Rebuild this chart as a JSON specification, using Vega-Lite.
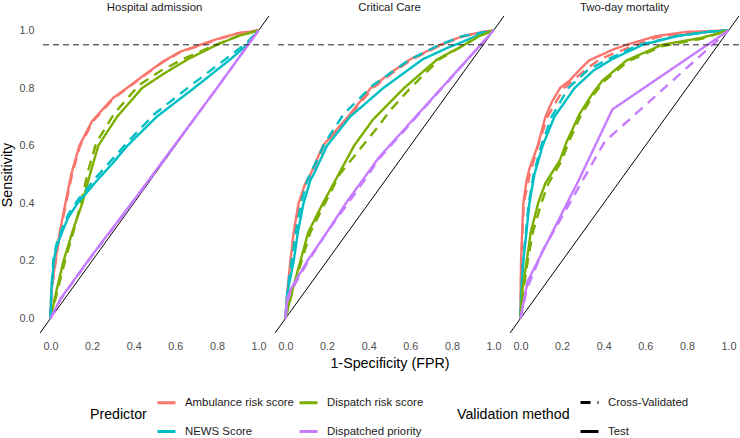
{
"$schema":"https://vega.github.io/schema/vega-lite/v6.json",
"padding":{"left":0,"top":1,"right":1,"bottom":0},
"background":"white",
"bounds":"flush",
"config":{
"font":"Liberation Sans",
"view":{"stroke":null},
"axis":{"domain":false,"ticks":false,"labelColor":"#4d4d4d","labelFontSize":10.8,"labelFont":"Liberation Sans","titleFont":"Liberation Sans","titleFontSize":14.3,"titleFontWeight":"normal","titleColor":"#000000","gridColor":"#e6e6e6","labelPadding":6},
"header":{"labelFont":"Liberation Sans","labelFontSize":11.4,"labelColor":"#1a1a1a","titleFont":"Liberation Sans","titleFontSize":14.3,"titleFontWeight":"normal","titleColor":"#000000"},
"legend":{"labelFont":"Liberation Sans","titleFont":"Liberation Sans","labelFontSize":11.4,"labelColor":"#1a1a1a","titleFontSize":14.2,"titleFontWeight":"normal","titleColor":"#000000","symbolType":"stroke","symbolStrokeWidth":3,"symbolSize":324,"rowPadding":12,"columnPadding":-1,"titlePadding":9,"labelOffset":8,"padding":0}
},
"data":{"values":[
{"panel":"Hospital admission","pred":"Ambulance risk score","method":"Test","fpr":0,"tpr":0},
{"panel":"Hospital admission","pred":"Ambulance risk score","method":"Test","fpr":0.005,"tpr":0.1},
{"panel":"Hospital admission","pred":"Ambulance risk score","method":"Test","fpr":0.024,"tpr":0.2},
{"panel":"Hospital admission","pred":"Ambulance risk score","method":"Test","fpr":0.045,"tpr":0.3},
{"panel":"Hospital admission","pred":"Ambulance risk score","method":"Test","fpr":0.072,"tpr":0.4},
{"panel":"Hospital admission","pred":"Ambulance risk score","method":"Test","fpr":0.1,"tpr":0.5},
{"panel":"Hospital admission","pred":"Ambulance risk score","method":"Test","fpr":0.139,"tpr":0.6},
{"panel":"Hospital admission","pred":"Ambulance risk score","method":"Test","fpr":0.2,"tpr":0.685},
{"panel":"Hospital admission","pred":"Ambulance risk score","method":"Test","fpr":0.3,"tpr":0.765},
{"panel":"Hospital admission","pred":"Ambulance risk score","method":"Test","fpr":0.377,"tpr":0.805},
{"panel":"Hospital admission","pred":"Ambulance risk score","method":"Test","fpr":0.45,"tpr":0.845},
{"panel":"Hospital admission","pred":"Ambulance risk score","method":"Test","fpr":0.537,"tpr":0.89},
{"panel":"Hospital admission","pred":"Ambulance risk score","method":"Test","fpr":0.62,"tpr":0.925},
{"panel":"Hospital admission","pred":"Ambulance risk score","method":"Test","fpr":0.72,"tpr":0.95},
{"panel":"Hospital admission","pred":"Ambulance risk score","method":"Test","fpr":0.8,"tpr":0.97},
{"panel":"Hospital admission","pred":"Ambulance risk score","method":"Test","fpr":0.9,"tpr":0.99},
{"panel":"Hospital admission","pred":"Ambulance risk score","method":"Test","fpr":1,"tpr":1},
{"panel":"Hospital admission","pred":"Ambulance risk score","method":"Cross-Validated","fpr":0,"tpr":0},
{"panel":"Hospital admission","pred":"Ambulance risk score","method":"Cross-Validated","fpr":0.006,"tpr":0.1},
{"panel":"Hospital admission","pred":"Ambulance risk score","method":"Cross-Validated","fpr":0.026,"tpr":0.2},
{"panel":"Hospital admission","pred":"Ambulance risk score","method":"Cross-Validated","fpr":0.047,"tpr":0.3},
{"panel":"Hospital admission","pred":"Ambulance risk score","method":"Cross-Validated","fpr":0.075,"tpr":0.4},
{"panel":"Hospital admission","pred":"Ambulance risk score","method":"Cross-Validated","fpr":0.104,"tpr":0.5},
{"panel":"Hospital admission","pred":"Ambulance risk score","method":"Cross-Validated","fpr":0.143,"tpr":0.6},
{"panel":"Hospital admission","pred":"Ambulance risk score","method":"Cross-Validated","fpr":0.205,"tpr":0.685},
{"panel":"Hospital admission","pred":"Ambulance risk score","method":"Cross-Validated","fpr":0.305,"tpr":0.765},
{"panel":"Hospital admission","pred":"Ambulance risk score","method":"Cross-Validated","fpr":0.38,"tpr":0.805},
{"panel":"Hospital admission","pred":"Ambulance risk score","method":"Cross-Validated","fpr":0.455,"tpr":0.845},
{"panel":"Hospital admission","pred":"Ambulance risk score","method":"Cross-Validated","fpr":0.54,"tpr":0.89},
{"panel":"Hospital admission","pred":"Ambulance risk score","method":"Cross-Validated","fpr":0.625,"tpr":0.925},
{"panel":"Hospital admission","pred":"Ambulance risk score","method":"Cross-Validated","fpr":0.72,"tpr":0.948},
{"panel":"Hospital admission","pred":"Ambulance risk score","method":"Cross-Validated","fpr":0.8,"tpr":0.968},
{"panel":"Hospital admission","pred":"Ambulance risk score","method":"Cross-Validated","fpr":0.9,"tpr":0.99},
{"panel":"Hospital admission","pred":"Ambulance risk score","method":"Cross-Validated","fpr":1,"tpr":1},
{"panel":"Hospital admission","pred":"Dispatch risk score","method":"Test","fpr":0,"tpr":0},
{"panel":"Hospital admission","pred":"Dispatch risk score","method":"Test","fpr":0.03,"tpr":0.1},
{"panel":"Hospital admission","pred":"Dispatch risk score","method":"Test","fpr":0.063,"tpr":0.2},
{"panel":"Hospital admission","pred":"Dispatch risk score","method":"Test","fpr":0.105,"tpr":0.3},
{"panel":"Hospital admission","pred":"Dispatch risk score","method":"Test","fpr":0.153,"tpr":0.4},
{"panel":"Hospital admission","pred":"Dispatch risk score","method":"Test","fpr":0.19,"tpr":0.5},
{"panel":"Hospital admission","pred":"Dispatch risk score","method":"Test","fpr":0.23,"tpr":0.6},
{"panel":"Hospital admission","pred":"Dispatch risk score","method":"Test","fpr":0.32,"tpr":0.7},
{"panel":"Hospital admission","pred":"Dispatch risk score","method":"Test","fpr":0.44,"tpr":0.8},
{"panel":"Hospital admission","pred":"Dispatch risk score","method":"Test","fpr":0.545,"tpr":0.85},
{"panel":"Hospital admission","pred":"Dispatch risk score","method":"Test","fpr":0.66,"tpr":0.9},
{"panel":"Hospital admission","pred":"Dispatch risk score","method":"Test","fpr":0.8,"tpr":0.95},
{"panel":"Hospital admission","pred":"Dispatch risk score","method":"Test","fpr":0.9,"tpr":0.98},
{"panel":"Hospital admission","pred":"Dispatch risk score","method":"Test","fpr":1,"tpr":1},
{"panel":"Hospital admission","pred":"Dispatch risk score","method":"Cross-Validated","fpr":0,"tpr":0},
{"panel":"Hospital admission","pred":"Dispatch risk score","method":"Cross-Validated","fpr":0.035,"tpr":0.1},
{"panel":"Hospital admission","pred":"Dispatch risk score","method":"Cross-Validated","fpr":0.07,"tpr":0.2},
{"panel":"Hospital admission","pred":"Dispatch risk score","method":"Cross-Validated","fpr":0.11,"tpr":0.3},
{"panel":"Hospital admission","pred":"Dispatch risk score","method":"Cross-Validated","fpr":0.15,"tpr":0.41},
{"panel":"Hospital admission","pred":"Dispatch risk score","method":"Cross-Validated","fpr":0.18,"tpr":0.51},
{"panel":"Hospital admission","pred":"Dispatch risk score","method":"Cross-Validated","fpr":0.22,"tpr":0.61},
{"panel":"Hospital admission","pred":"Dispatch risk score","method":"Cross-Validated","fpr":0.305,"tpr":0.71},
{"panel":"Hospital admission","pred":"Dispatch risk score","method":"Cross-Validated","fpr":0.425,"tpr":0.81},
{"panel":"Hospital admission","pred":"Dispatch risk score","method":"Cross-Validated","fpr":0.53,"tpr":0.86},
{"panel":"Hospital admission","pred":"Dispatch risk score","method":"Cross-Validated","fpr":0.65,"tpr":0.905},
{"panel":"Hospital admission","pred":"Dispatch risk score","method":"Cross-Validated","fpr":0.8,"tpr":0.952},
{"panel":"Hospital admission","pred":"Dispatch risk score","method":"Cross-Validated","fpr":0.9,"tpr":0.98},
{"panel":"Hospital admission","pred":"Dispatch risk score","method":"Cross-Validated","fpr":1,"tpr":1},
{"panel":"Hospital admission","pred":"NEWS Score","method":"Test","fpr":0,"tpr":0},
{"panel":"Hospital admission","pred":"NEWS Score","method":"Test","fpr":0.005,"tpr":0.1},
{"panel":"Hospital admission","pred":"NEWS Score","method":"Test","fpr":0.016,"tpr":0.2},
{"panel":"Hospital admission","pred":"NEWS Score","method":"Test","fpr":0.03,"tpr":0.25},
{"panel":"Hospital admission","pred":"NEWS Score","method":"Test","fpr":0.056,"tpr":0.3},
{"panel":"Hospital admission","pred":"NEWS Score","method":"Test","fpr":0.085,"tpr":0.35},
{"panel":"Hospital admission","pred":"NEWS Score","method":"Test","fpr":0.13,"tpr":0.4},
{"panel":"Hospital admission","pred":"NEWS Score","method":"Test","fpr":0.225,"tpr":0.48},
{"panel":"Hospital admission","pred":"NEWS Score","method":"Test","fpr":0.3,"tpr":0.54},
{"panel":"Hospital admission","pred":"NEWS Score","method":"Test","fpr":0.37,"tpr":0.6},
{"panel":"Hospital admission","pred":"NEWS Score","method":"Test","fpr":0.51,"tpr":0.7},
{"panel":"Hospital admission","pred":"NEWS Score","method":"Test","fpr":0.69,"tpr":0.8},
{"panel":"Hospital admission","pred":"NEWS Score","method":"Test","fpr":0.865,"tpr":0.9},
{"panel":"Hospital admission","pred":"NEWS Score","method":"Test","fpr":0.945,"tpr":0.95},
{"panel":"Hospital admission","pred":"NEWS Score","method":"Test","fpr":1,"tpr":1},
{"panel":"Hospital admission","pred":"NEWS Score","method":"Cross-Validated","fpr":0,"tpr":0},
{"panel":"Hospital admission","pred":"NEWS Score","method":"Cross-Validated","fpr":0.005,"tpr":0.11},
{"panel":"Hospital admission","pred":"NEWS Score","method":"Cross-Validated","fpr":0.015,"tpr":0.21},
{"panel":"Hospital admission","pred":"NEWS Score","method":"Cross-Validated","fpr":0.03,"tpr":0.26},
{"panel":"Hospital admission","pred":"NEWS Score","method":"Cross-Validated","fpr":0.055,"tpr":0.31},
{"panel":"Hospital admission","pred":"NEWS Score","method":"Cross-Validated","fpr":0.085,"tpr":0.36},
{"panel":"Hospital admission","pred":"NEWS Score","method":"Cross-Validated","fpr":0.13,"tpr":0.41},
{"panel":"Hospital admission","pred":"NEWS Score","method":"Cross-Validated","fpr":0.22,"tpr":0.49},
{"panel":"Hospital admission","pred":"NEWS Score","method":"Cross-Validated","fpr":0.3,"tpr":0.555},
{"panel":"Hospital admission","pred":"NEWS Score","method":"Cross-Validated","fpr":0.37,"tpr":0.612},
{"panel":"Hospital admission","pred":"NEWS Score","method":"Cross-Validated","fpr":0.5,"tpr":0.71},
{"panel":"Hospital admission","pred":"NEWS Score","method":"Cross-Validated","fpr":0.68,"tpr":0.812},
{"panel":"Hospital admission","pred":"NEWS Score","method":"Cross-Validated","fpr":0.855,"tpr":0.908},
{"panel":"Hospital admission","pred":"NEWS Score","method":"Cross-Validated","fpr":0.94,"tpr":0.955},
{"panel":"Hospital admission","pred":"NEWS Score","method":"Cross-Validated","fpr":1,"tpr":1},
{"panel":"Hospital admission","pred":"Dispatched priority","method":"Test","fpr":0,"tpr":0},
{"panel":"Hospital admission","pred":"Dispatched priority","method":"Test","fpr":0.05,"tpr":0.07},
{"panel":"Hospital admission","pred":"Dispatched priority","method":"Test","fpr":0.2,"tpr":0.22},
{"panel":"Hospital admission","pred":"Dispatched priority","method":"Test","fpr":0.4,"tpr":0.41},
{"panel":"Hospital admission","pred":"Dispatched priority","method":"Test","fpr":0.6,"tpr":0.605},
{"panel":"Hospital admission","pred":"Dispatched priority","method":"Test","fpr":0.8,"tpr":0.8},
{"panel":"Hospital admission","pred":"Dispatched priority","method":"Test","fpr":1,"tpr":1},
{"panel":"Hospital admission","pred":"Dispatched priority","method":"Cross-Validated","fpr":0,"tpr":0},
{"panel":"Hospital admission","pred":"Dispatched priority","method":"Cross-Validated","fpr":0.05,"tpr":0.068},
{"panel":"Hospital admission","pred":"Dispatched priority","method":"Cross-Validated","fpr":0.2,"tpr":0.218},
{"panel":"Hospital admission","pred":"Dispatched priority","method":"Cross-Validated","fpr":0.4,"tpr":0.408},
{"panel":"Hospital admission","pred":"Dispatched priority","method":"Cross-Validated","fpr":0.6,"tpr":0.603},
{"panel":"Hospital admission","pred":"Dispatched priority","method":"Cross-Validated","fpr":0.8,"tpr":0.8},
{"panel":"Hospital admission","pred":"Dispatched priority","method":"Cross-Validated","fpr":1,"tpr":1},
{"panel":"Critical Care","pred":"Ambulance risk score","method":"Test","fpr":0,"tpr":0},
{"panel":"Critical Care","pred":"Ambulance risk score","method":"Test","fpr":0.01,"tpr":0.1},
{"panel":"Critical Care","pred":"Ambulance risk score","method":"Test","fpr":0.024,"tpr":0.2},
{"panel":"Critical Care","pred":"Ambulance risk score","method":"Test","fpr":0.04,"tpr":0.3},
{"panel":"Critical Care","pred":"Ambulance risk score","method":"Test","fpr":0.063,"tpr":0.4},
{"panel":"Critical Care","pred":"Ambulance risk score","method":"Test","fpr":0.096,"tpr":0.47},
{"panel":"Critical Care","pred":"Ambulance risk score","method":"Test","fpr":0.12,"tpr":0.5},
{"panel":"Critical Care","pred":"Ambulance risk score","method":"Test","fpr":0.18,"tpr":0.6},
{"panel":"Critical Care","pred":"Ambulance risk score","method":"Test","fpr":0.3,"tpr":0.7},
{"panel":"Critical Care","pred":"Ambulance risk score","method":"Test","fpr":0.41,"tpr":0.8},
{"panel":"Critical Care","pred":"Ambulance risk score","method":"Test","fpr":0.5,"tpr":0.85},
{"panel":"Critical Care","pred":"Ambulance risk score","method":"Test","fpr":0.6,"tpr":0.9},
{"panel":"Critical Care","pred":"Ambulance risk score","method":"Test","fpr":0.745,"tpr":0.95},
{"panel":"Critical Care","pred":"Ambulance risk score","method":"Test","fpr":0.85,"tpr":0.98},
{"panel":"Critical Care","pred":"Ambulance risk score","method":"Test","fpr":0.95,"tpr":0.995},
{"panel":"Critical Care","pred":"Ambulance risk score","method":"Test","fpr":1,"tpr":1},
{"panel":"Critical Care","pred":"Ambulance risk score","method":"Cross-Validated","fpr":0,"tpr":0},
{"panel":"Critical Care","pred":"Ambulance risk score","method":"Cross-Validated","fpr":0.011,"tpr":0.1},
{"panel":"Critical Care","pred":"Ambulance risk score","method":"Cross-Validated","fpr":0.026,"tpr":0.2},
{"panel":"Critical Care","pred":"Ambulance risk score","method":"Cross-Validated","fpr":0.042,"tpr":0.3},
{"panel":"Critical Care","pred":"Ambulance risk score","method":"Cross-Validated","fpr":0.066,"tpr":0.4},
{"panel":"Critical Care","pred":"Ambulance risk score","method":"Cross-Validated","fpr":0.1,"tpr":0.47},
{"panel":"Critical Care","pred":"Ambulance risk score","method":"Cross-Validated","fpr":0.125,"tpr":0.5},
{"panel":"Critical Care","pred":"Ambulance risk score","method":"Cross-Validated","fpr":0.185,"tpr":0.6},
{"panel":"Critical Care","pred":"Ambulance risk score","method":"Cross-Validated","fpr":0.305,"tpr":0.7},
{"panel":"Critical Care","pred":"Ambulance risk score","method":"Cross-Validated","fpr":0.42,"tpr":0.8},
{"panel":"Critical Care","pred":"Ambulance risk score","method":"Cross-Validated","fpr":0.51,"tpr":0.85},
{"panel":"Critical Care","pred":"Ambulance risk score","method":"Cross-Validated","fpr":0.61,"tpr":0.9},
{"panel":"Critical Care","pred":"Ambulance risk score","method":"Cross-Validated","fpr":0.75,"tpr":0.95},
{"panel":"Critical Care","pred":"Ambulance risk score","method":"Cross-Validated","fpr":0.85,"tpr":0.978},
{"panel":"Critical Care","pred":"Ambulance risk score","method":"Cross-Validated","fpr":0.95,"tpr":0.995},
{"panel":"Critical Care","pred":"Ambulance risk score","method":"Cross-Validated","fpr":1,"tpr":1},
{"panel":"Critical Care","pred":"NEWS Score","method":"Test","fpr":0,"tpr":0},
{"panel":"Critical Care","pred":"NEWS Score","method":"Test","fpr":0.012,"tpr":0.1},
{"panel":"Critical Care","pred":"NEWS Score","method":"Test","fpr":0.04,"tpr":0.2},
{"panel":"Critical Care","pred":"NEWS Score","method":"Test","fpr":0.06,"tpr":0.3},
{"panel":"Critical Care","pred":"NEWS Score","method":"Test","fpr":0.087,"tpr":0.4},
{"panel":"Critical Care","pred":"NEWS Score","method":"Test","fpr":0.12,"tpr":0.48},
{"panel":"Critical Care","pred":"NEWS Score","method":"Test","fpr":0.135,"tpr":0.5},
{"panel":"Critical Care","pred":"NEWS Score","method":"Test","fpr":0.2,"tpr":0.6},
{"panel":"Critical Care","pred":"NEWS Score","method":"Test","fpr":0.31,"tpr":0.7},
{"panel":"Critical Care","pred":"NEWS Score","method":"Test","fpr":0.47,"tpr":0.8},
{"panel":"Critical Care","pred":"NEWS Score","method":"Test","fpr":0.66,"tpr":0.9},
{"panel":"Critical Care","pred":"NEWS Score","method":"Test","fpr":0.78,"tpr":0.94},
{"panel":"Critical Care","pred":"NEWS Score","method":"Test","fpr":0.85,"tpr":0.96},
{"panel":"Critical Care","pred":"NEWS Score","method":"Test","fpr":0.93,"tpr":0.985},
{"panel":"Critical Care","pred":"NEWS Score","method":"Test","fpr":1,"tpr":1},
{"panel":"Critical Care","pred":"NEWS Score","method":"Cross-Validated","fpr":0,"tpr":0},
{"panel":"Critical Care","pred":"NEWS Score","method":"Cross-Validated","fpr":0.01,"tpr":0.1},
{"panel":"Critical Care","pred":"NEWS Score","method":"Cross-Validated","fpr":0.03,"tpr":0.2},
{"panel":"Critical Care","pred":"NEWS Score","method":"Cross-Validated","fpr":0.05,"tpr":0.3},
{"panel":"Critical Care","pred":"NEWS Score","method":"Cross-Validated","fpr":0.075,"tpr":0.4},
{"panel":"Critical Care","pred":"NEWS Score","method":"Cross-Validated","fpr":0.105,"tpr":0.48},
{"panel":"Critical Care","pred":"NEWS Score","method":"Cross-Validated","fpr":0.125,"tpr":0.51},
{"panel":"Critical Care","pred":"NEWS Score","method":"Cross-Validated","fpr":0.19,"tpr":0.61},
{"panel":"Critical Care","pred":"NEWS Score","method":"Cross-Validated","fpr":0.28,"tpr":0.71},
{"panel":"Critical Care","pred":"NEWS Score","method":"Cross-Validated","fpr":0.42,"tpr":0.81},
{"panel":"Critical Care","pred":"NEWS Score","method":"Cross-Validated","fpr":0.6,"tpr":0.9},
{"panel":"Critical Care","pred":"NEWS Score","method":"Cross-Validated","fpr":0.74,"tpr":0.95},
{"panel":"Critical Care","pred":"NEWS Score","method":"Cross-Validated","fpr":0.85,"tpr":0.98},
{"panel":"Critical Care","pred":"NEWS Score","method":"Cross-Validated","fpr":1,"tpr":1},
{"panel":"Critical Care","pred":"Dispatch risk score","method":"Test","fpr":0,"tpr":0},
{"panel":"Critical Care","pred":"Dispatch risk score","method":"Test","fpr":0.034,"tpr":0.1},
{"panel":"Critical Care","pred":"Dispatch risk score","method":"Test","fpr":0.072,"tpr":0.2},
{"panel":"Critical Care","pred":"Dispatch risk score","method":"Test","fpr":0.11,"tpr":0.3},
{"panel":"Critical Care","pred":"Dispatch risk score","method":"Test","fpr":0.18,"tpr":0.4},
{"panel":"Critical Care","pred":"Dispatch risk score","method":"Test","fpr":0.24,"tpr":0.48},
{"panel":"Critical Care","pred":"Dispatch risk score","method":"Test","fpr":0.27,"tpr":0.52},
{"panel":"Critical Care","pred":"Dispatch risk score","method":"Test","fpr":0.33,"tpr":0.6},
{"panel":"Critical Care","pred":"Dispatch risk score","method":"Test","fpr":0.42,"tpr":0.69},
{"panel":"Critical Care","pred":"Dispatch risk score","method":"Test","fpr":0.57,"tpr":0.8},
{"panel":"Critical Care","pred":"Dispatch risk score","method":"Test","fpr":0.73,"tpr":0.9},
{"panel":"Critical Care","pred":"Dispatch risk score","method":"Test","fpr":0.86,"tpr":0.95},
{"panel":"Critical Care","pred":"Dispatch risk score","method":"Test","fpr":0.93,"tpr":0.98},
{"panel":"Critical Care","pred":"Dispatch risk score","method":"Test","fpr":1,"tpr":1},
{"panel":"Critical Care","pred":"Dispatch risk score","method":"Cross-Validated","fpr":0,"tpr":0},
{"panel":"Critical Care","pred":"Dispatch risk score","method":"Cross-Validated","fpr":0.036,"tpr":0.1},
{"panel":"Critical Care","pred":"Dispatch risk score","method":"Cross-Validated","fpr":0.078,"tpr":0.2},
{"panel":"Critical Care","pred":"Dispatch risk score","method":"Cross-Validated","fpr":0.12,"tpr":0.3},
{"panel":"Critical Care","pred":"Dispatch risk score","method":"Cross-Validated","fpr":0.19,"tpr":0.4},
{"panel":"Critical Care","pred":"Dispatch risk score","method":"Cross-Validated","fpr":0.26,"tpr":0.5},
{"panel":"Critical Care","pred":"Dispatch risk score","method":"Cross-Validated","fpr":0.36,"tpr":0.59},
{"panel":"Critical Care","pred":"Dispatch risk score","method":"Cross-Validated","fpr":0.45,"tpr":0.67},
{"panel":"Critical Care","pred":"Dispatch risk score","method":"Cross-Validated","fpr":0.5,"tpr":0.72},
{"panel":"Critical Care","pred":"Dispatch risk score","method":"Cross-Validated","fpr":0.6,"tpr":0.8},
{"panel":"Critical Care","pred":"Dispatch risk score","method":"Cross-Validated","fpr":0.74,"tpr":0.9},
{"panel":"Critical Care","pred":"Dispatch risk score","method":"Cross-Validated","fpr":0.86,"tpr":0.95},
{"panel":"Critical Care","pred":"Dispatch risk score","method":"Cross-Validated","fpr":0.93,"tpr":0.98},
{"panel":"Critical Care","pred":"Dispatch risk score","method":"Cross-Validated","fpr":1,"tpr":1},
{"panel":"Critical Care","pred":"Dispatched priority","method":"Test","fpr":0,"tpr":0},
{"panel":"Critical Care","pred":"Dispatched priority","method":"Test","fpr":0.01,"tpr":0.07},
{"panel":"Critical Care","pred":"Dispatched priority","method":"Test","fpr":0.024,"tpr":0.1},
{"panel":"Critical Care","pred":"Dispatched priority","method":"Test","fpr":0.105,"tpr":0.2},
{"panel":"Critical Care","pred":"Dispatched priority","method":"Test","fpr":0.2,"tpr":0.3},
{"panel":"Critical Care","pred":"Dispatched priority","method":"Test","fpr":0.29,"tpr":0.4},
{"panel":"Critical Care","pred":"Dispatched priority","method":"Test","fpr":0.36,"tpr":0.47},
{"panel":"Critical Care","pred":"Dispatched priority","method":"Test","fpr":0.45,"tpr":0.56},
{"panel":"Critical Care","pred":"Dispatched priority","method":"Test","fpr":1,"tpr":1},
{"panel":"Critical Care","pred":"Dispatched priority","method":"Cross-Validated","fpr":0,"tpr":0},
{"panel":"Critical Care","pred":"Dispatched priority","method":"Cross-Validated","fpr":0.01,"tpr":0.06},
{"panel":"Critical Care","pred":"Dispatched priority","method":"Cross-Validated","fpr":0.03,"tpr":0.1},
{"panel":"Critical Care","pred":"Dispatched priority","method":"Cross-Validated","fpr":0.11,"tpr":0.2},
{"panel":"Critical Care","pred":"Dispatched priority","method":"Cross-Validated","fpr":0.2,"tpr":0.3},
{"panel":"Critical Care","pred":"Dispatched priority","method":"Cross-Validated","fpr":0.29,"tpr":0.39},
{"panel":"Critical Care","pred":"Dispatched priority","method":"Cross-Validated","fpr":0.37,"tpr":0.47},
{"panel":"Critical Care","pred":"Dispatched priority","method":"Cross-Validated","fpr":0.45,"tpr":0.555},
{"panel":"Critical Care","pred":"Dispatched priority","method":"Cross-Validated","fpr":1,"tpr":1},
{"panel":"Two-day mortality","pred":"Ambulance risk score","method":"Test","fpr":0,"tpr":0},
{"panel":"Two-day mortality","pred":"Ambulance risk score","method":"Test","fpr":0.003,"tpr":0.2},
{"panel":"Two-day mortality","pred":"Ambulance risk score","method":"Test","fpr":0.014,"tpr":0.4},
{"panel":"Two-day mortality","pred":"Ambulance risk score","method":"Test","fpr":0.03,"tpr":0.48},
{"panel":"Two-day mortality","pred":"Ambulance risk score","method":"Test","fpr":0.043,"tpr":0.52},
{"panel":"Two-day mortality","pred":"Ambulance risk score","method":"Test","fpr":0.083,"tpr":0.6},
{"panel":"Two-day mortality","pred":"Ambulance risk score","method":"Test","fpr":0.12,"tpr":0.7},
{"panel":"Two-day mortality","pred":"Ambulance risk score","method":"Test","fpr":0.15,"tpr":0.75},
{"panel":"Two-day mortality","pred":"Ambulance risk score","method":"Test","fpr":0.19,"tpr":0.8},
{"panel":"Two-day mortality","pred":"Ambulance risk score","method":"Test","fpr":0.236,"tpr":0.826},
{"panel":"Two-day mortality","pred":"Ambulance risk score","method":"Test","fpr":0.28,"tpr":0.86},
{"panel":"Two-day mortality","pred":"Ambulance risk score","method":"Test","fpr":0.33,"tpr":0.896},
{"panel":"Two-day mortality","pred":"Ambulance risk score","method":"Test","fpr":0.45,"tpr":0.935},
{"panel":"Two-day mortality","pred":"Ambulance risk score","method":"Test","fpr":0.51,"tpr":0.95},
{"panel":"Two-day mortality","pred":"Ambulance risk score","method":"Test","fpr":0.65,"tpr":0.98},
{"panel":"Two-day mortality","pred":"Ambulance risk score","method":"Test","fpr":0.8,"tpr":0.995},
{"panel":"Two-day mortality","pred":"Ambulance risk score","method":"Test","fpr":1,"tpr":1},
{"panel":"Two-day mortality","pred":"Ambulance risk score","method":"Cross-Validated","fpr":0,"tpr":0},
{"panel":"Two-day mortality","pred":"Ambulance risk score","method":"Cross-Validated","fpr":0.004,"tpr":0.2},
{"panel":"Two-day mortality","pred":"Ambulance risk score","method":"Cross-Validated","fpr":0.016,"tpr":0.4},
{"panel":"Two-day mortality","pred":"Ambulance risk score","method":"Cross-Validated","fpr":0.045,"tpr":0.5},
{"panel":"Two-day mortality","pred":"Ambulance risk score","method":"Cross-Validated","fpr":0.085,"tpr":0.6},
{"panel":"Two-day mortality","pred":"Ambulance risk score","method":"Cross-Validated","fpr":0.13,"tpr":0.7},
{"panel":"Two-day mortality","pred":"Ambulance risk score","method":"Cross-Validated","fpr":0.17,"tpr":0.75},
{"panel":"Two-day mortality","pred":"Ambulance risk score","method":"Cross-Validated","fpr":0.21,"tpr":0.8},
{"panel":"Two-day mortality","pred":"Ambulance risk score","method":"Cross-Validated","fpr":0.29,"tpr":0.85},
{"panel":"Two-day mortality","pred":"Ambulance risk score","method":"Cross-Validated","fpr":0.38,"tpr":0.9},
{"panel":"Two-day mortality","pred":"Ambulance risk score","method":"Cross-Validated","fpr":0.52,"tpr":0.94},
{"panel":"Two-day mortality","pred":"Ambulance risk score","method":"Cross-Validated","fpr":0.65,"tpr":0.975},
{"panel":"Two-day mortality","pred":"Ambulance risk score","method":"Cross-Validated","fpr":0.8,"tpr":0.99},
{"panel":"Two-day mortality","pred":"Ambulance risk score","method":"Cross-Validated","fpr":1,"tpr":1},
{"panel":"Two-day mortality","pred":"NEWS Score","method":"Test","fpr":0,"tpr":0},
{"panel":"Two-day mortality","pred":"NEWS Score","method":"Test","fpr":0.005,"tpr":0.1},
{"panel":"Two-day mortality","pred":"NEWS Score","method":"Test","fpr":0.014,"tpr":0.2},
{"panel":"Two-day mortality","pred":"NEWS Score","method":"Test","fpr":0.029,"tpr":0.3},
{"panel":"Two-day mortality","pred":"NEWS Score","method":"Test","fpr":0.043,"tpr":0.4},
{"panel":"Two-day mortality","pred":"NEWS Score","method":"Test","fpr":0.067,"tpr":0.5},
{"panel":"Two-day mortality","pred":"NEWS Score","method":"Test","fpr":0.107,"tpr":0.6},
{"panel":"Two-day mortality","pred":"NEWS Score","method":"Test","fpr":0.163,"tpr":0.7},
{"panel":"Two-day mortality","pred":"NEWS Score","method":"Test","fpr":0.26,"tpr":0.8},
{"panel":"Two-day mortality","pred":"NEWS Score","method":"Test","fpr":0.35,"tpr":0.86},
{"panel":"Two-day mortality","pred":"NEWS Score","method":"Test","fpr":0.44,"tpr":0.9},
{"panel":"Two-day mortality","pred":"NEWS Score","method":"Test","fpr":0.587,"tpr":0.95},
{"panel":"Two-day mortality","pred":"NEWS Score","method":"Test","fpr":0.75,"tpr":0.98},
{"panel":"Two-day mortality","pred":"NEWS Score","method":"Test","fpr":0.9,"tpr":0.995},
{"panel":"Two-day mortality","pred":"NEWS Score","method":"Test","fpr":1,"tpr":1},
{"panel":"Two-day mortality","pred":"NEWS Score","method":"Cross-Validated","fpr":0,"tpr":0},
{"panel":"Two-day mortality","pred":"NEWS Score","method":"Cross-Validated","fpr":0.005,"tpr":0.1},
{"panel":"Two-day mortality","pred":"NEWS Score","method":"Cross-Validated","fpr":0.013,"tpr":0.2},
{"panel":"Two-day mortality","pred":"NEWS Score","method":"Cross-Validated","fpr":0.027,"tpr":0.3},
{"panel":"Two-day mortality","pred":"NEWS Score","method":"Cross-Validated","fpr":0.04,"tpr":0.4},
{"panel":"Two-day mortality","pred":"NEWS Score","method":"Cross-Validated","fpr":0.063,"tpr":0.5},
{"panel":"Two-day mortality","pred":"NEWS Score","method":"Cross-Validated","fpr":0.1,"tpr":0.6},
{"panel":"Two-day mortality","pred":"NEWS Score","method":"Cross-Validated","fpr":0.15,"tpr":0.7},
{"panel":"Two-day mortality","pred":"NEWS Score","method":"Cross-Validated","fpr":0.23,"tpr":0.8},
{"panel":"Two-day mortality","pred":"NEWS Score","method":"Cross-Validated","fpr":0.32,"tpr":0.86},
{"panel":"Two-day mortality","pred":"NEWS Score","method":"Cross-Validated","fpr":0.42,"tpr":0.9},
{"panel":"Two-day mortality","pred":"NEWS Score","method":"Cross-Validated","fpr":0.57,"tpr":0.95},
{"panel":"Two-day mortality","pred":"NEWS Score","method":"Cross-Validated","fpr":0.75,"tpr":0.98},
{"panel":"Two-day mortality","pred":"NEWS Score","method":"Cross-Validated","fpr":0.9,"tpr":0.995},
{"panel":"Two-day mortality","pred":"NEWS Score","method":"Cross-Validated","fpr":1,"tpr":1},
{"panel":"Two-day mortality","pred":"Dispatch risk score","method":"Test","fpr":0,"tpr":0},
{"panel":"Two-day mortality","pred":"Dispatch risk score","method":"Test","fpr":0.01,"tpr":0.1},
{"panel":"Two-day mortality","pred":"Dispatch risk score","method":"Test","fpr":0.03,"tpr":0.2},
{"panel":"Two-day mortality","pred":"Dispatch risk score","method":"Test","fpr":0.05,"tpr":0.3},
{"panel":"Two-day mortality","pred":"Dispatch risk score","method":"Test","fpr":0.085,"tpr":0.4},
{"panel":"Two-day mortality","pred":"Dispatch risk score","method":"Test","fpr":0.12,"tpr":0.47},
{"panel":"Two-day mortality","pred":"Dispatch risk score","method":"Test","fpr":0.19,"tpr":0.55},
{"panel":"Two-day mortality","pred":"Dispatch risk score","method":"Test","fpr":0.22,"tpr":0.61},
{"panel":"Two-day mortality","pred":"Dispatch risk score","method":"Test","fpr":0.284,"tpr":0.71},
{"panel":"Two-day mortality","pred":"Dispatch risk score","method":"Test","fpr":0.346,"tpr":0.78},
{"panel":"Two-day mortality","pred":"Dispatch risk score","method":"Test","fpr":0.394,"tpr":0.826},
{"panel":"Two-day mortality","pred":"Dispatch risk score","method":"Test","fpr":0.51,"tpr":0.896},
{"panel":"Two-day mortality","pred":"Dispatch risk score","method":"Test","fpr":0.68,"tpr":0.95},
{"panel":"Two-day mortality","pred":"Dispatch risk score","method":"Test","fpr":0.875,"tpr":0.975},
{"panel":"Two-day mortality","pred":"Dispatch risk score","method":"Test","fpr":1,"tpr":1},
{"panel":"Two-day mortality","pred":"Dispatch risk score","method":"Cross-Validated","fpr":0,"tpr":0},
{"panel":"Two-day mortality","pred":"Dispatch risk score","method":"Cross-Validated","fpr":0.015,"tpr":0.1},
{"panel":"Two-day mortality","pred":"Dispatch risk score","method":"Cross-Validated","fpr":0.035,"tpr":0.2},
{"panel":"Two-day mortality","pred":"Dispatch risk score","method":"Cross-Validated","fpr":0.06,"tpr":0.3},
{"panel":"Two-day mortality","pred":"Dispatch risk score","method":"Cross-Validated","fpr":0.1,"tpr":0.4},
{"panel":"Two-day mortality","pred":"Dispatch risk score","method":"Cross-Validated","fpr":0.135,"tpr":0.47},
{"panel":"Two-day mortality","pred":"Dispatch risk score","method":"Cross-Validated","fpr":0.2,"tpr":0.55},
{"panel":"Two-day mortality","pred":"Dispatch risk score","method":"Cross-Validated","fpr":0.23,"tpr":0.61},
{"panel":"Two-day mortality","pred":"Dispatch risk score","method":"Cross-Validated","fpr":0.29,"tpr":0.705},
{"panel":"Two-day mortality","pred":"Dispatch risk score","method":"Cross-Validated","fpr":0.35,"tpr":0.775},
{"panel":"Two-day mortality","pred":"Dispatch risk score","method":"Cross-Validated","fpr":0.4,"tpr":0.822},
{"panel":"Two-day mortality","pred":"Dispatch risk score","method":"Cross-Validated","fpr":0.515,"tpr":0.892},
{"panel":"Two-day mortality","pred":"Dispatch risk score","method":"Cross-Validated","fpr":0.68,"tpr":0.945},
{"panel":"Two-day mortality","pred":"Dispatch risk score","method":"Cross-Validated","fpr":0.875,"tpr":0.972},
{"panel":"Two-day mortality","pred":"Dispatch risk score","method":"Cross-Validated","fpr":1,"tpr":1},
{"panel":"Two-day mortality","pred":"Dispatched priority","method":"Test","fpr":0,"tpr":0},
{"panel":"Two-day mortality","pred":"Dispatched priority","method":"Test","fpr":0.035,"tpr":0.13},
{"panel":"Two-day mortality","pred":"Dispatched priority","method":"Test","fpr":0.284,"tpr":0.486},
{"panel":"Two-day mortality","pred":"Dispatched priority","method":"Test","fpr":0.442,"tpr":0.726},
{"panel":"Two-day mortality","pred":"Dispatched priority","method":"Test","fpr":1,"tpr":1},
{"panel":"Two-day mortality","pred":"Dispatched priority","method":"Cross-Validated","fpr":0,"tpr":0},
{"panel":"Two-day mortality","pred":"Dispatched priority","method":"Cross-Validated","fpr":0.03,"tpr":0.1},
{"panel":"Two-day mortality","pred":"Dispatched priority","method":"Cross-Validated","fpr":0.107,"tpr":0.236},
{"panel":"Two-day mortality","pred":"Dispatched priority","method":"Cross-Validated","fpr":0.405,"tpr":0.614},
{"panel":"Two-day mortality","pred":"Dispatched priority","method":"Cross-Validated","fpr":1,"tpr":1}
]},
"facet":{"column":{"field":"panel","type":"nominal","sort":["Hospital admission","Critical Care","Two-day mortality"],"title":"1-Specificity (FPR)","header":{"labelOrient":"top","titleOrient":"bottom","labelPadding":3,"titlePadding":-4}}},
"spacing":6,
"spec":{
"width":229,"height":317,
"layer":[
{"transform":[{"aggregate":[{"op":"count","as":"n"}],"groupby":["panel"]}],
 "mark":{"type":"rule","color":"black","strokeWidth":1,"clip":true},
 "encoding":{"x":{"datum":-0.05,"type":"quantitative"},"y":{"datum":-0.05,"type":"quantitative"},"x2":{"datum":1.05},"y2":{"datum":1.05}}},
{"mark":{"type":"line","strokeWidth":2.4,"clip":true},
 "encoding":{
  "x":{"field":"fpr","type":"quantitative","scale":{"domain":[-0.05,1.05],"nice":false,"zero":false},
       "axis":{"title":null,"values":[0,0.1,0.2,0.3,0.4,0.5,0.6,0.7,0.8,0.9,1],"labelExpr":"round(datum.value*10) % 2 == 0 ? format(datum.value, '.1f') : ''","labelOverlap":false,"labelPadding":7,"gridWidth":{"condition":{"test":"round(datum.value*10) % 2 == 0","value":1.2},"value":0.7}}},
  "y":{"field":"tpr","type":"quantitative","scale":{"domain":[-0.05,1.05],"nice":false,"zero":false},
       "axis":{"title":"Sensitivity","values":[0,0.1,0.2,0.3,0.4,0.5,0.6,0.7,0.8,0.9,1],"labelExpr":"round(datum.value*10) % 2 == 0 ? format(datum.value, '.1f') : ''","labelOverlap":false,"labelPadding":6,"titlePadding":4,"gridWidth":{"condition":{"test":"round(datum.value*10) % 2 == 0","value":1.2},"value":0.7}}},
  "color":{"field":"pred","type":"nominal","title":"Predictor",
       "scale":{"domain":["Ambulance risk score","Dispatch risk score","NEWS Score","Dispatched priority"],"range":["#F8766D","#7CAE00","#00BFC4","#C77CFF"]},
       "legend":{"orient":"none","legendX":50,"legendY":376,"direction":"horizontal","columns":2,"titleOrient":"left"}},
  "strokeDash":{"field":"method","type":"nominal","title":"Validation method",
       "scale":{"domain":["Cross-Validated","Test"],"range":[[10,7],[1,0]]},
       "legend":{"orient":"none","legendX":417,"legendY":376,"direction":"vertical","titleOrient":"left","symbolStrokeColor":"black"}},
  "order":{"field":"fpr","type":"quantitative"}
 }},
{"mark":{"type":"rule","color":"#222222","strokeWidth":1,"strokeDash":[6,4]},
 "transform":[{"aggregate":[{"op":"count","as":"n"}],"groupby":["panel"]}],
 "encoding":{"y":{"datum":0.95,"type":"quantitative"}}}
]}
}
